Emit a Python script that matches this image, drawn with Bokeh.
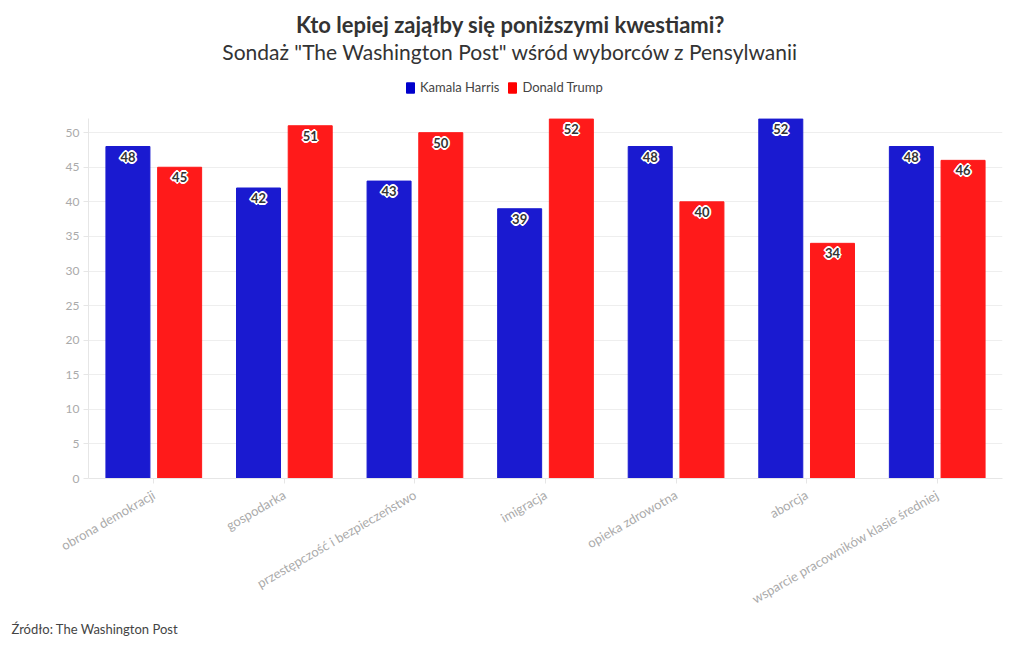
from bokeh.plotting import figure
from bokeh.layouts import column
from bokeh.models import (ColumnDataSource, FactorRange, Range1d, FixedTicker, Label,
                          Legend, LegendItem, Title)
from bokeh.transform import dodge
from bokeh.core.properties import value
from bokeh.embed import file_html
from bokeh.resources import INLINE
import math

categories = ["obrona demokracji", "gospodarka", "przestępczość i bezpieczeństwo",
              "imigracja", "opieka zdrowotna", "aborcja",
              "wsparcie pracowników klasie średniej"]
harris = [48, 42, 43, 39, 48, 52, 48]
trump = [45, 51, 50, 52, 40, 34, 46]
series_names = ["Kamala Harris", "Donald Trump"]
y_ticks = [0, 5, 10, 15, 20, 25, 30, 35, 40, 45, 50]

BLUE = "#1a1ad0"
RED = "#ff1a1a"
FONT = "Lato"
W = 1016
LEFT = 88
RIGHT = 14

# ---------------- header (titles + legend) ----------------
# frame of the header is aligned with the main chart's frame by the column layout
h = figure(width=W, height=110, x_range=Range1d(LEFT, W - RIGHT), y_range=Range1d(0, 110),
           output_backend="svg", toolbar_location=None, min_border=0,
           min_border_left=LEFT, min_border_right=RIGHT,
           background_fill_color="white", border_fill_color="white")
h.axis.visible = False
h.grid.grid_line_color = None
h.outline_line_color = None
h.add_layout(Label(x=510, y=86, text="Kto lepiej zająłby się poniższymi kwestiami?",
                   text_align="center", text_baseline="middle", text_font=FONT,
                   text_font_size="22px", text_font_style="bold", text_color="#333333"))
h.add_layout(Label(x=510, y=59,
                   text='Sondaż "The Washington Post" wśród wyborców z Pensylwanii',
                   text_align="center", text_baseline="middle", text_font=FONT,
                   text_font_size="21px", text_color="#333333"))
# hidden stand-in renderers so that the legend can draw its swatches
lb = h.vbar(x=harris, top=harris, width=1, fill_color="#0000cc", line_color="#0000cc",
            visible=False)
lr = h.vbar(x=trump, top=trump, width=1, fill_color="#ff0000", line_color="#ff0000",
            visible=False)
legend = Legend(items=[LegendItem(label=series_names[0], renderers=[lb]),
                       LegendItem(label=series_names[1], renderers=[lr])],
                location=(405 - LEFT, 15), orientation="horizontal",
                glyph_width=10, glyph_height=13, label_standoff=5, spacing=8,
                padding=0, margin=0, border_line_color=None,
                background_fill_alpha=0, label_text_font=FONT,
                label_text_font_size="13px", label_text_color="#444444",
                label_height=13)
h.add_layout(legend, "center")

# ---------------- main chart ----------------
src = ColumnDataSource(dict(
    cat=categories, harris=harris, trump=trump,
    harris_lbl=[str(v) for v in harris], trump_lbl=[str(v) for v in trump],
))

p = figure(width=W, height=536, x_range=FactorRange(*categories),
           y_range=Range1d(0, 52.05), output_backend="svg", toolbar_location=None,
           min_border_left=LEFT, min_border_right=RIGHT, min_border_top=8,
           min_border_bottom=168, background_fill_color="white",
           border_fill_color="white")
p.outline_line_color = None

p.vbar(x=dodge("cat", -0.198, range=p.x_range), top="harris", width=0.337,
       source=src, fill_color=BLUE, line_color=BLUE)
p.vbar(x=dodge("cat", 0.198, range=p.x_range), top="trump", width=0.337,
       source=src, fill_color=RED, line_color=RED)

# value labels with white halo
for col, off in (("harris", -0.198), ("trump", 0.198)):
    xs = dodge("cat", off, range=p.x_range)
    for dx, dy in [(-1, -1), (-1, 0), (-1, 1), (0, -1), (0, 1), (1, -1), (1, 0), (1, 1),
                   (-2, 0), (2, 0), (0, -2), (0, 2)]:
        p.text(x=xs, y=col, text=col + "_lbl", source=src, x_offset=dx, y_offset=5 + dy,
               text_align="center", text_baseline="top", text_color="white",
               text_font=value(FONT), text_font_size="13px", text_font_style="bold")
    p.text(x=xs, y=col, text=col + "_lbl", source=src, x_offset=0, y_offset=5,
           text_align="center", text_baseline="top", text_color="#333333",
           text_font=value(FONT), text_font_size="13px", text_font_style="bold")

# axes
p.yaxis.ticker = FixedTicker(ticks=y_ticks)
p.yaxis.axis_line_color = "#e6e6e6"
p.yaxis.major_tick_line_color = "#e6e6e6"
p.yaxis.major_tick_out = 5
p.yaxis.major_tick_in = 0
p.yaxis.minor_tick_line_color = None
p.yaxis.major_label_text_color = "#aaaaaa"
p.yaxis.major_label_text_font = FONT
p.yaxis.major_label_text_font_size = "12px"
p.yaxis.major_label_standoff = 4

p.xaxis.axis_line_color = "#e6e6e6"
p.xaxis.major_tick_line_color = "#e6e6e6"
p.xaxis.major_tick_out = 5
p.xaxis.major_tick_in = 0
p.xaxis.major_label_orientation = math.pi / 6
p.xaxis.major_label_text_color = "#aaaaaa"
p.xaxis.major_label_text_font = FONT
p.xaxis.major_label_text_font_size = "13px"
p.xaxis.major_label_standoff = 10

p.xgrid.grid_line_color = None
p.ygrid.grid_line_color = "#eeeeee"

p.add_layout(Title(text="Źródło: The Washington Post", align="left", offset=-77,
                   text_font=FONT, text_font_size="13px", text_font_style="normal",
                   text_color="#444444", standoff=4), "below")

open("out.html", "w").write(file_html(column(h, p, spacing=0), INLINE))
